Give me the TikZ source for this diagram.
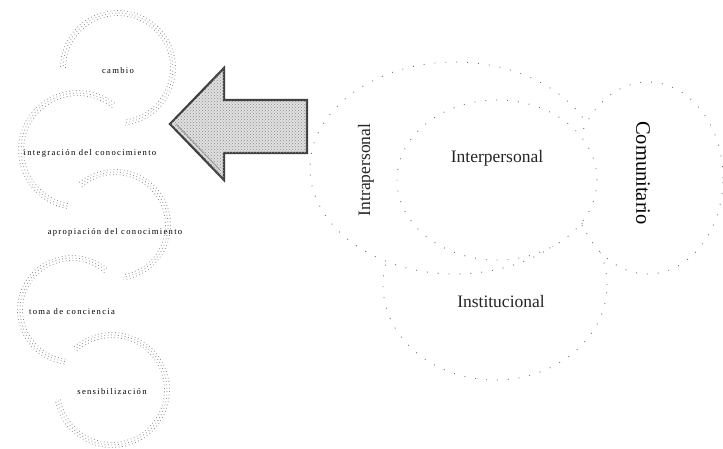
\documentclass[tikz,border=0pt]{standalone}
\usepackage{fontspec}
\setmainfont{Liberation Serif}
\newfontfamily\smallspaced[LetterSpace=15]{Liberation Serif}
\usetikzlibrary{shapes.geometric,patterns}
\begin{document}
\begin{tikzpicture}[x=1pt,y=-1pt,
  band/.style={black!45, line width=0.8pt, dash pattern=on 0.8pt off 2.6pt},
  ring/.style={draw=black!55, line width=0.9pt, dash pattern=on 0.9pt off 10pt, fill=white},
  stagelabel/.style={font=\smallspaced\fontsize{8.6}{10}\selectfont, inner sep=0pt},
  levellabel/.style={font=\fontsize{17.5}{19}\selectfont, inner sep=0pt, text=black!85}
]
\useasboundingbox (0,0) rectangle (723,448);

% ---- left stages (stippled arcs)
\foreach \d/\ph in {-2.5/0pt,0/1.3pt,2.5/2.4pt}{
  \draw[band, dash phase=\ph] (118,68) ++(180:55+\d) arc[start angle=180, end angle=443, radius=55+\d];
  \draw[band, dash phase=\ph] (78,150) ++(309:57+\d) arc[start angle=309, end angle=100, radius=57+\d];
  \draw[band, dash phase=\ph] (115,225) ++(229:53+\d) arc[start angle=229, end angle=441, radius=53+\d];
  \draw[band, dash phase=\ph] (72,310) ++(311:52+\d) arc[start angle=311, end angle=96, radius=52+\d];
  \draw[band, dash phase=\ph] (112,390) ++(228:55+\d) arc[start angle=228, end angle=530, radius=55+\d];
}
\node[stagelabel] (cambio) at (118,71) {cambio};
\node[stagelabel] (integ) at (90,153) {integración del conocimiento};
\node[stagelabel] (aprop) at (115,232) {apropiación del conocimiento};
\node[stagelabel, anchor=west] (toma) at (29,312) {toma de conciencia};
\node[stagelabel] (sens) at (112,392) {sensibilización};

% ---- arrow
\coordinate (tip) at (170,124);
\draw[black!75, line width=2.2pt, fill=black!12, line join=miter]
  (tip) -- (224,68) -- (224,100) -- (307,100) -- (307,153) -- (224,153) -- (224,180) -- cycle;
\fill[pattern=crosshatch dots, pattern color=black!45]
  (tip) -- (224,68) -- (224,100) -- (307,100) -- (307,153) -- (224,153) -- (224,180) -- cycle;
\draw[black!40, line width=1pt] (176,124) -- (220,170);

% ---- right levels
\node[ring, ellipse, minimum width=224pt, minimum height=190pt] (inst) at (495,285) {};
\node[ring, ellipse, minimum width=290pt, minimum height=212pt] (intra) at (455,168) {};
\node[ring, ellipse, minimum width=150pt, minimum height=192pt] (comu) at (648,178) {};
\node[ring, ellipse, minimum width=200pt, minimum height=160pt] (inter) at (497,180) {};

\node[levellabel, rotate=90] (intral) at (366,170) {Intrapersonal};
\node[levellabel] (interl) at (497,158) {Interpersonal};
\node[levellabel, text=black, font=\fontsize{20.5}{22}\selectfont] at (643,173) [rotate=-90] (comul) {Comunitario};
\node[levellabel] (instl) at (501,302) {Institucional};
\end{tikzpicture}
\end{document}
